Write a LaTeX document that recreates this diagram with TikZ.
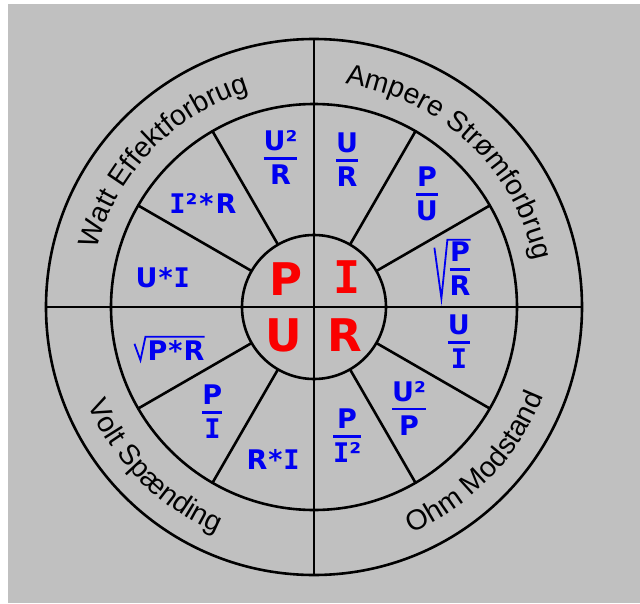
\documentclass[tikz,border=0pt]{standalone}
\usepackage{fontspec}
\setmainfont{Liberation Sans}
\newfontfamily\formfont{DejaVu Sans}
\newfontfamily\monoI{DejaVu Sans Mono}
\usetikzlibrary{decorations.text}

\definecolor{bggray}{RGB}{192,192,192}
\definecolor{fblue}{RGB}{0,0,240}
\definecolor{fred}{RGB}{250,0,0}

\setlength{\arrayrulewidth}{2.8pt}
\newcommand{\Iser}{{\monoI\bfseries I}}
\newcommand{\frc}[2]{\begin{tabular}{@{}c@{}}#1\\[-2pt]\hline\rule{0pt}{25pt}#2\end{tabular}}
\newcommand{\ringfont}{\fontsize{28.5}{28.5}\selectfont}

\tikzset{
  formula/.style={text=fblue, font=\formfont\bfseries\fontsize{27}{28}\selectfont, inner sep=0pt},
  letter/.style={text=fred, font=\formfont\bfseries\fontsize{45}{45}\selectfont, inner sep=0pt},
  ring/.style={line width=2.6pt},
  radical/.style={fblue, line width=1.8pt, line join=miter},
}

\begin{document}
\begin{tikzpicture}
\useasboundingbox (-314pt,-296pt) rectangle (326pt,307pt);
\fill[bggray] (-306pt,-296pt) rectangle (326pt,303pt);
% circles
\draw[ring] (0,0) circle[radius=268pt];
\draw[ring] (0,0) circle[radius=203pt];
\draw[ring] (0,0) circle[radius=72pt];
\draw[ring] (90:268pt) -- (270:268pt);
\draw[ring] (180:268pt) -- (0:268pt);
% spokes
\draw[ring] (30:72pt) -- (30:203pt);
\draw[ring] (60:72pt) -- (60:203pt);
\draw[ring] (120:72pt) -- (120:203pt);
\draw[ring] (150:72pt) -- (150:203pt);
\draw[ring] (210:72pt) -- (210:203pt);
\draw[ring] (240:72pt) -- (240:203pt);
\draw[ring] (300:72pt) -- (300:203pt);
\draw[ring] (330:72pt) -- (330:203pt);
% ring texts
\path[decorate, decoration={text along path, text={|\ringfont|Watt Effektforbrug}, text align=center}]
  (176:225pt) arc[start angle=176, end angle=96, radius=225pt];
\path[decorate, decoration={text along path, text={|\ringfont|Ampere Strømforbrug}, text align=center}]
  (87:225pt) arc[start angle=87, end angle=7, radius=225pt];
\path[decorate, decoration={text along path, text={|\ringfont|Volt Spænding}, text align=center}]
  (185:246pt) arc[start angle=185, end angle=265, radius=246pt];
\path[decorate, decoration={text along path, text={|\ringfont|Ohm Modstand}, text align=center}]
  (276:246pt) arc[start angle=276, end angle=356, radius=246pt];
% centre
\node[letter] (pL) at (-28pt,28pt) {P};
\node[letter] (iL) at (33pt,30pt) {\Iser};
\node[letter] (uL) at (-30pt,-28pt) {U};
\node[letter] (rL) at (31pt,-28pt) {R};
% Watt
\node[formula] (uRsq) at (103:149pt) {\frc{U²}{R}};
\node[formula] (iiR) at (137:152pt) {\Iser²\hspace{2pt}*\hspace{2pt}R};
\node[formula] (uI) at (169:154pt) {U\hspace{1pt}*\hspace{1pt}\Iser};
% Volt
\node[formula] (sqPR) at (-138pt,-43pt) {P\hspace{1pt}*\hspace{1pt}R};
\draw[radical] ([xshift=-13pt,yshift=-4pt]sqPR.north west) -- ([xshift=-7pt]sqPR.south west)
  -- ([xshift=-2pt,yshift=3pt]sqPR.north west) -- ([yshift=3pt]sqPR.north east);
\node[formula] (pI) at (227:149pt) {\frc{P}{\Iser}};
\node[formula] (rI) at (255:158pt) {R\hspace{1pt}*\hspace{1pt}\Iser};
% Ohm
\node[formula] (pIsq) at (284:137pt) {\frc{P}{\Iser²}};
\node[formula] (uPsq) at (312:142pt) {\frc{U²}{P}};
\node[formula] (uIo) at (345:150pt) {\frc{U}{\Iser}};
% Ampere
\node[formula] (sqPoR) at (146pt,34pt) {\frc{P}{R}};
\draw[radical] ([xshift=-15pt,yshift=-6pt]sqPoR.north west) -- ([xshift=-8pt,yshift=6pt]sqPoR.south west)
  -- ([xshift=-2pt,yshift=2pt]sqPoR.north west) -- ([yshift=2pt]sqPoR.north east);
\node[formula] (pU) at (44:157pt) {\frc{P}{U}};
\node[formula] (uR) at (77:147pt) {\frc{U}{R}};
\end{tikzpicture}
\end{document}
